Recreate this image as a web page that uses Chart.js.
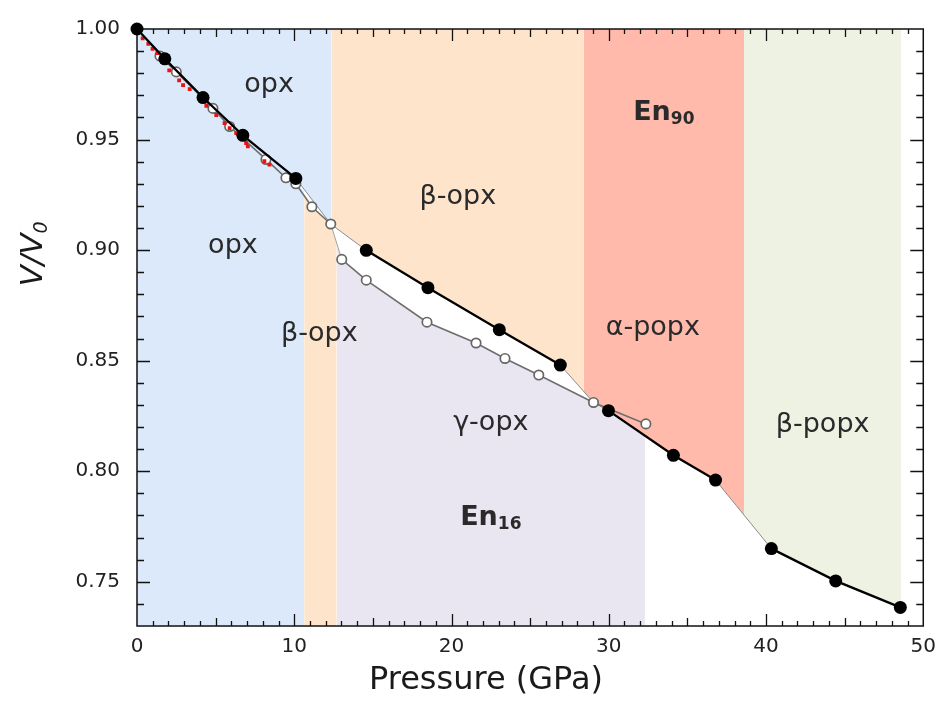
<!DOCTYPE html>
<html><head><meta charset="utf-8">
<script src="https://cdn.jsdelivr.net/npm/chart.js@4.4.1/dist/chart.umd.min.js"></script>
<style>html,body{margin:0;padding:0;background:#fff}#wrap{width:945px;height:723px;position:relative}</style>
</head><body><div id="wrap"><canvas id="c"></canvas></div>
<script>
// ---- data ----
const en90P = [0, 1.77, 4.20, 6.73, 10.10, 14.58, 18.50, 23.04, 26.92, 29.98, 34.11, 36.79, 40.34, 44.43, 48.54];
const en90V = [1.000, 0.9865, 0.9690, 0.9519, 0.9324, 0.8999, 0.8830, 0.8640, 0.8480, 0.8274, 0.8072, 0.7960, 0.7650, 0.7504, 0.7384];
const en16P = [1.46, 2.50, 4.83, 5.89, 8.20, 9.47, 10.10, 11.12, 12.32, 13.02, 14.58, 18.44, 21.56, 23.40, 25.55, 29.03, 32.36];
const en16V = [0.9878, 0.9806, 0.9641, 0.9559, 0.9410, 0.9327, 0.9300, 0.9196, 0.9118, 0.8958, 0.8864, 0.8674, 0.8580, 0.8510, 0.8435, 0.8311, 0.8214];
const redP = [0.36, 0.72, 0.99, 1.29, 2.05, 2.68, 2.93, 3.35, 4.09, 4.41, 5.04, 5.57, 5.89, 6.31, 6.94, 7.05, 8.10, 8.42];
const redV = [0.9958, 0.9933, 0.9910, 0.9891, 0.9813, 0.9768, 0.9746, 0.9728, 0.9674, 0.9653, 0.9611, 0.9574, 0.9552, 0.9529, 0.9484, 0.9469, 0.9402, 0.9387];
const xTicks = [0, 10, 20, 30, 40, 50];
const yTicks = [0.75, 0.80, 0.85, 0.90, 0.95, 1.00];
// phase boundaries (GPa)
const upperEdgesP = [0, 12.36, 28.42, 38.60, 48.60];   // En90 phases: opx, β-opx, α-popx, β-popx
const lowerEdgesP = [0, 10.63, 12.70, 32.30];          // En16 phases: opx, β-opx, γ-opx
const en90Breaks = [4, 8, 11];    // En90 segments i -> i+1 spanning a transition
const en16Thin = [8];             // En16 thin transition segment
const upperLinks = [8, 15];       // En16 points bounding the En90 field at transitions

// ---- styles ----
const upperColors = ['#dce9fa', '#fde4cb', '#ffbaab', '#eef2e2'];
const lowerColors = ['#dce9fa', '#fde4cb', '#e9e5f1'];
const FONT = '"DejaVu Sans", "Liberation Sans", sans-serif';
const regionLabels = [
  {t:'opx', x:8.4, y:0.9745},
  {t:'opx', x:6.1, y:0.902},
  {t:'β-opx', x:11.6, y:0.862},
  {t:'β-opx', x:20.4, y:0.924},
  {t:'En', s:'90', x:33.5, y:0.962, b:true},
  {t:'α-popx', x:32.8, y:0.865},
  {t:'γ-opx', x:22.5, y:0.822},
  {t:'En', s:'16', x:22.5, y:0.779, b:true},
  {t:'β-popx', x:43.6, y:0.821}
];

// ---- derived boundary curves ----
const pts = (P, V) => P.map((p, i) => ({x: p, y: V[i]}));
const en90 = pts(en90P, en90V);
const en16 = pts(en16P, en16V);
const upperEdge = en90.concat(upperLinks.map(i => en16[i])).sort((a, b) => a.x - b.x);
const lowerEdge = en90.filter(p => p.x <= 10.1).concat(en16.filter(p => p.x > 10.2));
function interp(edge, x) {
  let i = 0;
  while (i < edge.length - 2 && edge[i + 1].x < x) i++;
  const a = edge[i], b = edge[i + 1];
  return a.y + (b.y - a.y) * (x - a.x) / (b.x - a.x);
}
function band(edge, a, b) {
  return [{x: a, y: interp(edge, a)}]
    .concat(edge.filter(p => p.x > a && p.x < b))
    .concat([{x: b, y: interp(edge, b)}]);
}
const fills = [];
for (let i = 0; i < upperColors.length; i++) {
  fills.push({data: band(upperEdge, upperEdgesP[i], upperEdgesP[i + 1]), fill: 'end',
    backgroundColor: upperColors[i], borderWidth: 0, pointRadius: 0, order: 20 + i});
}
for (let i = 0; i < lowerColors.length; i++) {
  fills.push({data: band(lowerEdge, lowerEdgesP[i], lowerEdgesP[i + 1]), fill: 'start',
    backgroundColor: lowerColors[i], borderWidth: 0, pointRadius: 0, order: 30 + i});
}

const datasets = [
  {label: 'En90', data: en90, borderColor: '#000', borderWidth: 2.3, pointRadius: 6.5,
   pointBackgroundColor: '#000', pointBorderColor: '#000', pointBorderWidth: 0, fill: false, clip: false, order: 0,
   segment: {borderColor: c => en90Breaks.includes(c.p0DataIndex) ? 'rgba(0,0,0,0)' : '#000'}},
  {label: 'red', data: pts(redP, redV), showLine: false, pointStyle: 'rect', pointRadius: 2.7,
   pointBackgroundColor: '#ee1111', pointBorderWidth: 0, fill: false, order: 1},
  {label: 'En16', data: en16, borderColor: '#6e6e6e', borderWidth: 1.6, pointRadius: 4.7,
   pointBackgroundColor: '#fff', pointBorderColor: '#666', pointBorderWidth: 1.7, fill: false, clip: false, order: 2,
   segment: {borderWidth: c => en16Thin.includes(c.p0DataIndex) ? 0.9 : 1.6,
             borderColor: c => en16Thin.includes(c.p0DataIndex) ? '#999' : '#6e6e6e'}},
  {label: 'edge', data: upperEdge, borderColor: '#8c8c8c', borderWidth: 1, pointRadius: 0, fill: false, order: 3}
].concat(fills);

const framePlugin = {
  id: 'frame',
  beforeDatasetsDraw(chart) {
    const {ctx, chartArea: a, scales: {x, y}} = chart;
    ctx.save();
    ctx.strokeStyle = '#111'; ctx.lineWidth = 1.3;
    ctx.beginPath();
    for (let p = 1; p < 50; p++) {
      const px = Math.round(x.getPixelForValue(p)) + 0.5;
      const len = p % 10 === 0 ? 12 : (p % 5 === 0 ? 8 : 5);
      ctx.moveTo(px, a.bottom); ctx.lineTo(px, a.bottom - len);
      ctx.moveTo(px, a.top); ctx.lineTo(px, a.top + len);
    }
    for (let k = 74; k < 100; k++) {
      const py = Math.round(y.getPixelForValue(k / 100)) + 0.5;
      const len = k % 5 === 0 ? 13 : 7;
      ctx.moveTo(a.left, py); ctx.lineTo(a.left + len, py);
      ctx.moveTo(a.right, py); ctx.lineTo(a.right - len, py);
    }
    ctx.stroke();
    ctx.lineWidth = 1.5;
    ctx.strokeRect(a.left, a.top, a.width, a.height);
    ctx.restore();
  },
  afterDraw(chart) {
    const {ctx, scales: {x, y}} = chart;
    ctx.save();
    ctx.fillStyle = '#2a2a2a';
    ctx.textBaseline = 'middle';
    for (const L of regionLabels) {
      const px = x.getPixelForValue(L.x), py = y.getPixelForValue(L.y);
      const main = (L.b ? 'bold ' : '') + '27px ' + FONT;
      const sub = (L.b ? 'bold ' : '') + '17px ' + FONT;
      ctx.font = main;
      const w1 = ctx.measureText(L.t).width;
      let w2 = 0;
      if (L.s) { ctx.font = sub; w2 = ctx.measureText(L.s).width; }
      const x0 = px - (w1 + w2) / 2;
      ctx.font = main; ctx.textAlign = 'left';
      ctx.fillText(L.t, x0, py);
      if (L.s) { ctx.font = sub; ctx.fillText(L.s, x0 + w1, py + 7); }
    }
    // x axis title
    ctx.font = '32px ' + FONT;
    ctx.textAlign = 'center';
    ctx.fillStyle = '#1a1a1a';
    ctx.fillText('Pressure (GPa)', 486, 681);
    // y axis title
    ctx.translate(34, 254);
    ctx.rotate(-Math.PI / 2);
    ctx.font = 'italic 31px ' + FONT;
    const wa = ctx.measureText('V/V').width;
    ctx.font = 'italic 19px ' + FONT;
    const wb = ctx.measureText('0').width;
    ctx.textAlign = 'left';
    ctx.font = 'italic 31px ' + FONT;
    ctx.fillText('V/V', -(wa + wb) / 2, 0);
    ctx.font = 'italic 19px ' + FONT;
    ctx.fillText('0', -(wa + wb) / 2 + wa, 8);
    ctx.restore();
  }
};

new Chart(document.getElementById('c'), {
  type: 'line',
  data: {datasets},
  options: {
    responsive: true, maintainAspectRatio: false, animation: false,
    layout: {padding: {top: 25, right: 18, left: 0, bottom: 0}},
    plugins: {legend: {display: false}, tooltip: {enabled: false}, filler: {drawTime: 'beforeDatasetsDraw'}},
    elements: {line: {tension: 0}},
    scales: {
      x: {type: 'linear', min: 0, max: 50,
          grid: {display: false, drawTicks: false}, border: {display: false},
          afterBuildTicks: s => { s.ticks = xTicks.map(v => ({value: v})); },
          afterFit: s => { s.height = 97; },
          ticks: {padding: 9, color: '#222', font: {family: FONT, size: 20}, callback: v => String(v)}},
      y: {type: 'linear', min: 0.73, max: 1.0,
          grid: {display: false, drawTicks: false}, border: {display: false},
          afterBuildTicks: s => { s.ticks = yTicks.map(v => ({value: v})); },
          afterFit: s => { s.width = 137; },
          ticks: {padding: 17, color: '#222', font: {family: FONT, size: 20}, callback: v => Number(v).toFixed(2)}}
    }
  },
  plugins: [framePlugin]
});
</script></body></html>
